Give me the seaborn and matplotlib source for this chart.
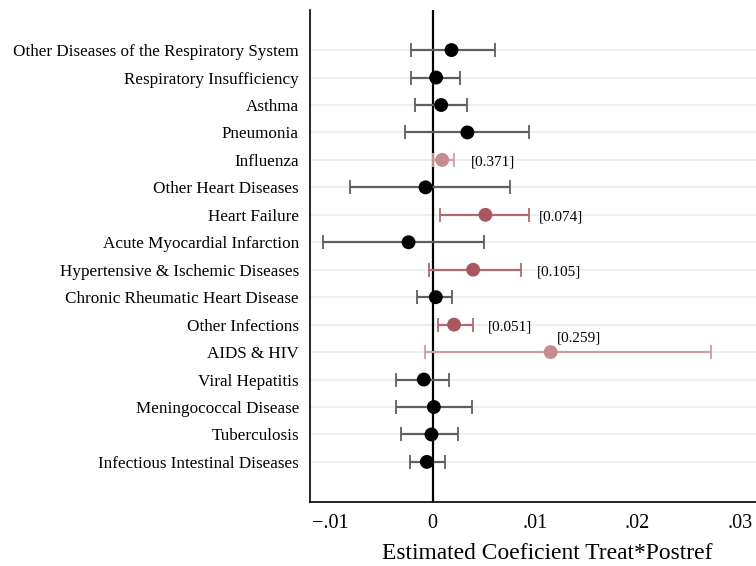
import matplotlib
matplotlib.use("Agg")
import matplotlib.pyplot as plt
import seaborn as sns
import pandas as pd
import numpy as np

causes = [
    "Other Diseases of the Respiratory System",
    "Respiratory Insufficiency",
    "Asthma",
    "Pneumonia",
    "Influenza",
    "Other Heart Diseases",
    "Heart Failure",
    "Acute Myocardial Infarction",
    "Hypertensive & Ischemic Diseases",
    "Chronic Rheumatic Heart Disease",
    "Other Infections",
    "AIDS & HIV",
    "Viral Hepatitis",
    "Meningococcal Disease",
    "Tuberculosis",
    "Infectious Intestinal Diseases",
]
coef = [0.00185, 0.00035, 0.00084, 0.0034, 0.00094, -0.00068, 0.00516, -0.00234,
        0.00396, 0.00032, 0.0021, 0.01152, -0.00085, 0.00013, -0.0001, -0.00055]
ci_low = [-0.00214, -0.0021, -0.0017, -0.00267, 0.0, -0.008, 0.00071, -0.01065,
          -0.0003, -0.00156, 0.00058, -0.00072, -0.00357, -0.00357, -0.00312, -0.00224]
ci_high = [0.00607, 0.00272, 0.0034, 0.0094, 0.00207, 0.00753, 0.0094, 0.00506,
           0.00867, 0.00188, 0.00392, 0.0272, 0.00156, 0.00383, 0.00246, 0.0012]
# p-values shown next to highlighted estimates (None = not shown)
pvals = [None, None, None, None, "0.371", None, "0.074", None,
         "0.105", None, "0.051", "0.259", None, None, None, None]
group = ["ns", "ns", "ns", "ns", "weak", "ns", "sig", "ns",
         "sig", "ns", "sig", "weak", "ns", "ns", "ns", "ns"]

df = pd.DataFrame({"cause": causes, "coef": coef, "lo": ci_low, "hi": ci_high,
                   "p": pvals, "group": group})
df["pos"] = np.arange(len(df))

point_col = {"ns": "#000000", "sig": "#a8585e", "weak": "#c68c90"}
line_col = {"ns": "#5f5f5f", "sig": "#b06a6f", "weak": "#cf9ea0"}

sns.set_style("white")
plt.rcParams["font.family"] = ["Liberation Serif", "DejaVu Serif"]
plt.rcParams["text.color"] = "black"
plt.rcParams["xtick.color"] = "black"
plt.rcParams["ytick.color"] = "black"
plt.rcParams["axes.labelcolor"] = "black"

fig = plt.figure(figsize=(7.56, 5.66), dpi=100)
ax = fig.add_axes([310 / 756, 1 - 502 / 566, 1 - 310 / 756, (502 - 10) / 566])

# light horizontal guides at each cause
for p in df["pos"]:
    ax.axhline(p, color="#e7eff2", lw=1.3, zorder=0)

ax.axvline(0, color="black", lw=1.6, zorder=1)

for _, r in df.iterrows():
    ax.errorbar(r["coef"], r["pos"],
                xerr=[[r["coef"] - r["lo"]], [r["hi"] - r["coef"]]],
                fmt="none", ecolor=line_col[r["group"]], elinewidth=1.6,
                capsize=5, capthick=1.3, zorder=2)

sns.scatterplot(data=df, x="coef", y="pos", hue="group", palette=point_col,
                s=100, edgecolor="none", legend=False, zorder=3, ax=ax)

# p-value annotations
label_dx = {"0.371": 17, "0.074": 10, "0.105": 15, "0.051": 15}
for _, r in df.iterrows():
    if r["p"] is None:
        continue
    txt = f"[{r['p']}]"
    if r["p"] == "0.259":
        ax.annotate(txt, (r["coef"], r["pos"]), xytext=(6, 8),
                    textcoords="offset pixels", ha="left", va="bottom",
                    fontsize=11)
    else:
        ax.annotate(txt, (r["hi"], r["pos"]), xytext=(label_dx[r["p"]], -2),
                    textcoords="offset pixels", ha="left", va="center",
                    fontsize=11)

ax.set_yticks(df["pos"])
ax.set_yticklabels(df["cause"], fontsize=12.3)
ax.set_ylim(len(df) - 1 + 1.46, -1.46)

ax.set_xlim(-0.01195, 0.03155)
ax.set_xticks([-0.01, 0, 0.01, 0.02, 0.03])
ax.set_xticklabels(["\u2212.01", "0", ".01", ".02", ".03"], fontsize=14.5)
ax.set_xlabel("Estimated Coeficient Treat*Postref", fontsize=16.9)
ax.xaxis.set_label_coords(0.5325, -0.084)
ax.set_ylabel("")

sns.despine(ax=ax, top=True, right=True)
for s in ["left", "bottom"]:
    ax.spines[s].set_color("black")
    ax.spines[s].set_linewidth(1.2)
ax.tick_params(axis="y", length=5, width=1, color="#333333", pad=3)
ax.tick_params(axis="x", length=6, width=1, color="#333333", pad=3)

fig.savefig("out.png", dpi=100)
